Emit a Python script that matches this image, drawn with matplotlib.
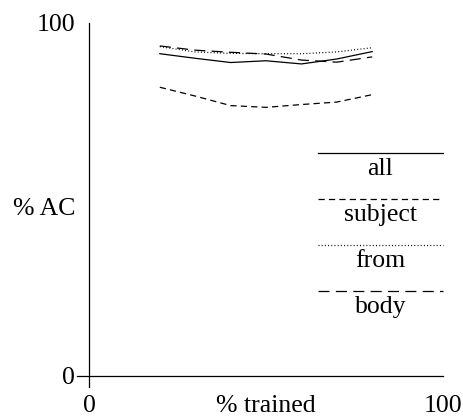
import matplotlib
matplotlib.use("Agg")
import matplotlib.pyplot as plt

plt.rcParams['font.family'] = ['Liberation Serif', 'DejaVu Serif']
plt.rcParams['lines.scale_dashes'] = False

# % of data used for training
trained = [20, 30, 40, 50, 60, 70, 80]

# % accuracy for each feature set
acc_all = [91.3, 90.0, 88.8, 89.3, 88.4, 89.8, 91.9]
acc_subject = [81.8, 79.3, 76.6, 76.1, 76.9, 77.6, 79.7]
acc_from = [93.3, 91.8, 91.4, 91.3, 91.3, 91.8, 93.0]
acc_body = [93.5, 92.3, 91.7, 91.2, 89.5, 88.9, 90.4]

series = [("all", acc_all, "-"),
          ("subject", acc_subject, (0, (4.5, 3.0))),
          ("from", acc_from, (0, (0.7, 1.6))),
          ("body", acc_body, (0, (8.0, 4.5)))]

FS = 18.5

fig = plt.figure(figsize=(4.64, 4.18), dpi=100)
ax = fig.add_axes([0.1918, 0.1005, 0.763, 0.8445])

for name, vals, ls in series:
    ax.plot(trained, vals, color="black", linestyle=ls, linewidth=0.9)

# hand-made legend: a line sample with the label centred underneath
key_y = [63.2, 50.1, 37.1, 24.1]
for (name, vals, ls), ky in zip(series, key_y):
    ax.plot([64.7, 100], [ky, ky], color="black", linestyle=ls, linewidth=0.9,
            clip_on=False)
    ax.text(82.3, ky - 1.4, name, ha="center", va="top", fontsize=FS)

ax.set_xlim(0, 100)
ax.set_ylim(0, 100)

for s in ["top", "right"]:
    ax.spines[s].set_visible(False)
ax.spines["left"].set_bounds(-3.1, 100)
ax.spines["bottom"].set_bounds(-3.4, 100)
for s in ["left", "bottom"]:
    ax.spines[s].set_linewidth(0.9)

ax.set_xticks([0, 50, 100])
ax.set_xticklabels(["0", "% trained", "100"])
ax.set_yticks([0, 48, 100])
ax.set_yticklabels(["0", "% AC", "100"])
ax.tick_params(axis="x", length=0, pad=14, labelsize=FS)
ax.tick_params(axis="y", length=0, pad=10, labelsize=FS)

fig.savefig("out.png", dpi=100)
